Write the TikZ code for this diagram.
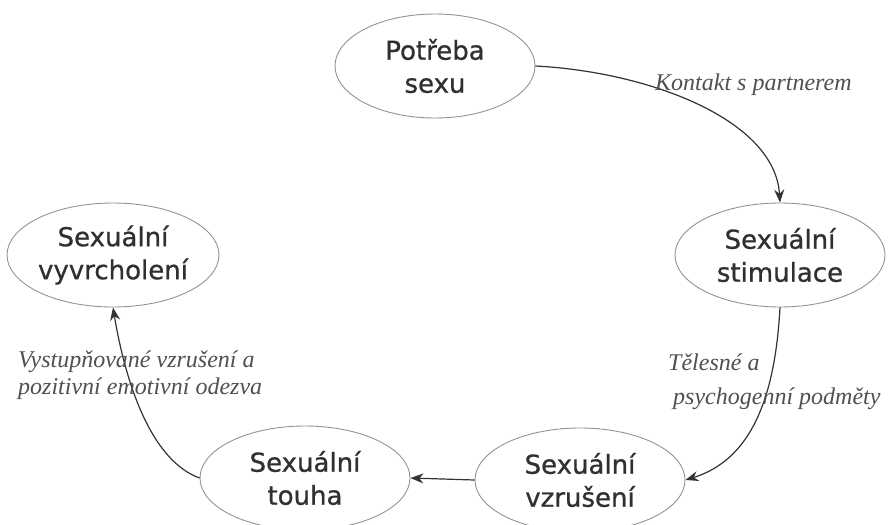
\documentclass[tikz,border=0pt]{standalone}
\usepackage{fontspec}
\setmainfont{DejaVu Sans}
\newfontfamily\nodefont[FakeBold=0.8]{DejaVu Sans}
\newfontfamily\labfont{Liberation Serif}
\usetikzlibrary{shapes.geometric,arrows.meta}
\definecolor{txt}{HTML}{303030}
\definecolor{lab}{HTML}{505050}
\definecolor{edge}{HTML}{333333}
\begin{document}
\begin{tikzpicture}[x=1pt,y=-1pt,
  stage/.style={ellipse,draw=gray!85,line width=0.9pt,minimum width=#1,minimum height=104pt,inner sep=0pt,
    align=center,text=txt,font=\nodefont\fontsize{26}{33}\selectfont},
  stage/.default=210pt,
  conn/.style={draw=edge,line width=1.2pt,-{Stealth[length=13pt,width=10pt]}},
  lbl/.style={text=lab,font=\labfont\itshape\fontsize{24}{#1}\selectfont,align=left,inner sep=0pt},
  lbl/.default=27pt]
\useasboundingbox (0,0) rectangle (892,525);
\node[stage=200pt] (need) at (435,66) {Potřeba\\sexu};
\node[stage] (stim) at (780,255) {Sexuální\\stimulace};
\node[stage] (orgasm) at (113,255) {Sexuální\\vyvrcholení};
\node[stage] (desire) at (305,478) {Sexuální\\touha};
\node[stage] (arousal) at (580,480) {Sexuální\\vzrušení};
\draw[conn] (need.east) .. controls (650,72) and (775,120) .. (stim.north);
\draw[conn] (stim.south) .. controls (775,400) and (750,460) .. (arousal.east);
\draw[conn] (arousal.west) -- (desire.east);
\draw[conn] (desire.west) .. controls (150,460) and (125,380) .. (orgasm.south);
\node[lbl,anchor=base west] (l1) at (655,90) {Kontakt s partnerem};
\node[lbl=34pt,anchor=base west] (l2) at (668,404) {Tělesné a\\\hspace*{5pt}psychogenní podměty};
\node[lbl,anchor=base west] (l3) at (18,394) {Vystupňované vzrušení a\\pozitivní emotivní odezva};
\end{tikzpicture}
\end{document}
